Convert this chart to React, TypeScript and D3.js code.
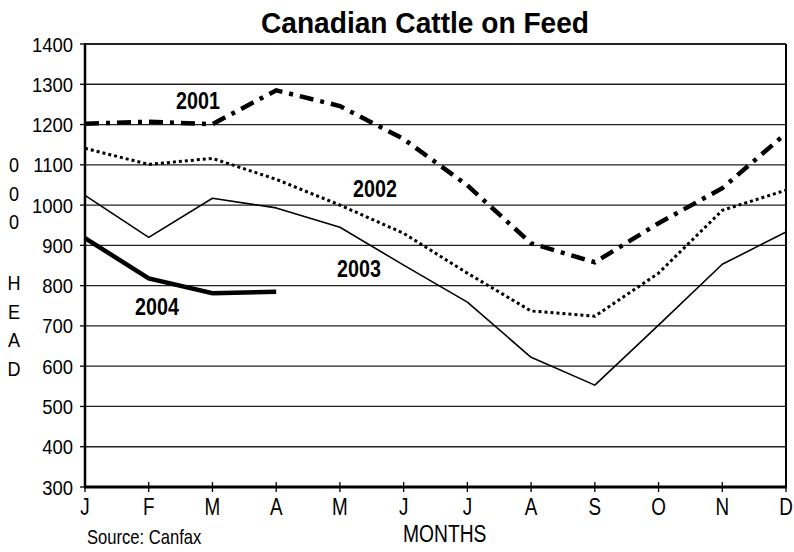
import React from "react";
import * as d3 from "d3";

const months = ["J", "F", "M", "A", "M", "J", "J", "A", "S", "O", "N", "D"];
const yTicks = [300, 400, 500, 600, 700, 800, 900, 1000, 1100, 1200, 1300, 1400];
const s2001 = [1202, 1207, 1201, 1285, 1246, 1164, 1049, 905, 858, 955, 1042, 1178];
const s2002 = [1141, 1101, 1116, 1064, 1000, 930, 831, 737, 724, 831, 987, 1037];
const s2003 = [1024, 920, 1017, 993, 945, 851, 759, 622, 553, 702, 853, 933];
const s2004 = [918, 818, 781, 785];
const yLabelTop = ["0", "0", "0"];
const yLabelBottom = ["H", "E", "A", "D"];

const SANS = "'Liberation Sans', Arial, sans-serif";

type NTProps = {
  x: number;
  y: number;
  size: number;
  sx?: number;
  anchor?: "start" | "middle" | "end";
  bold?: boolean;
  children: React.ReactNode;
};

function NText({ x, y, size, sx = 0.84, anchor = "start", bold = false, children }: NTProps) {
  return (
    <text
      transform={`translate(${x},${y}) scale(${sx},1)`}
      textAnchor={anchor}
      fontFamily={SANS}
      fontWeight={bold ? "bold" : "normal"}
      fontSize={size}
      fill="#000"
    >
      {children}
    </text>
  );
}

export default function App() {
  const W = 794, H = 552;
  const x0 = 85, x1 = 786, yTop = 44, yBot = 487;
  const x = d3.scaleLinear().domain([0, months.length - 1]).range([x0, x1]);
  const y = d3.scaleLinear().domain([300, 1400]).range([yBot, yTop]);
  const line = d3.line<number>().x((_, i) => x(i)).y((d) => y(d));

  return (
    <svg width={W} height={H} style={{ position: "absolute", left: 0, top: 0, background: "#fff" }}>
      <rect x={0} y={0} width={W} height={H} fill="#fff" />
      <NText x={425} y={33} size={29} sx={0.97} anchor="middle" bold>
        Canadian Cattle on Feed
      </NText>
      {/* grid lines */}
      {yTicks.slice(1, -1).map((t) => (
        <line key={t} x1={x0} x2={x1} y1={y(t)} y2={y(t)} stroke="#222" strokeWidth={1.3} />
      ))}
      {/* frame */}
      <line x1={x0} x2={x1} y1={yTop} y2={yTop} stroke="#222" strokeWidth={2} />
      <line x1={x1} x2={x1} y1={yTop} y2={yBot} stroke="#000" strokeWidth={2} />
      {/* y ticks and labels */}
      {yTicks.map((t) => (
        <g key={t}>
          <line x1={80} x2={x0} y1={y(t)} y2={y(t)} stroke="#000" strokeWidth={1.3} />
          <NText x={73} y={y(t) + 7.5} size={21} sx={0.88} anchor="end">
            {t}
          </NText>
        </g>
      ))}
      {/* x ticks and labels */}
      {months.map((m, i) => (
        <g key={i}>
          <line x1={x(i)} x2={x(i)} y1={yBot - 5} y2={yBot + 5} stroke="#000" strokeWidth={1.3} />
          <NText x={x(i)} y={515} size={23} sx={0.82} anchor="middle">
            {m}
          </NText>
        </g>
      ))}
      <line x1={x0} x2={x0} y1={yTop - 1} y2={yBot + 1} stroke="#000" strokeWidth={2.5} />
      <line x1={x0 - 1} x2={x1 + 1} y1={yBot} y2={yBot} stroke="#000" strokeWidth={3} />
      {/* y-axis label */}
      {yLabelTop.map((c, i) => (
        <NText key={"t" + i} x={14} y={172 + i * 28.5} size={21} sx={0.86} anchor="middle">
          {c}
        </NText>
      ))}
      {yLabelBottom.map((c, i) => (
        <NText key={"b" + i} x={14} y={290 + i * 28.5} size={21} sx={0.86} anchor="middle">
          {c}
        </NText>
      ))}
      {/* series */}
      <path d={line(s2003) || ""} fill="none" stroke="#000" strokeWidth={1.6} strokeLinejoin="round" />
      <path d={line(s2002) || ""} fill="none" stroke="#000" strokeWidth={3} strokeDasharray="3,3" />
      <path d={line(s2001) || ""} fill="none" stroke="#000" strokeWidth={4.5} strokeDasharray="14,7,4,7" />
      <path d={line(s2004) || ""} fill="none" stroke="#000" strokeWidth={4.5} strokeLinejoin="miter" />
      {/* series labels */}
      <NText x={198} y={109} size={24} sx={0.82} anchor="middle" bold>2001</NText>
      <NText x={375} y={197} size={24} sx={0.82} anchor="middle" bold>2002</NText>
      <NText x={359} y={277} size={24} sx={0.82} anchor="middle" bold>2003</NText>
      <NText x={157} y={315} size={24} sx={0.82} anchor="middle" bold>2004</NText>
      {/* footer */}
      <NText x={87} y={544} size={20} sx={0.83}>Source: Canfax</NText>
      <NText x={403} y={542} size={23.5} sx={0.82}>MONTHS</NText>
    </svg>
  );
}
